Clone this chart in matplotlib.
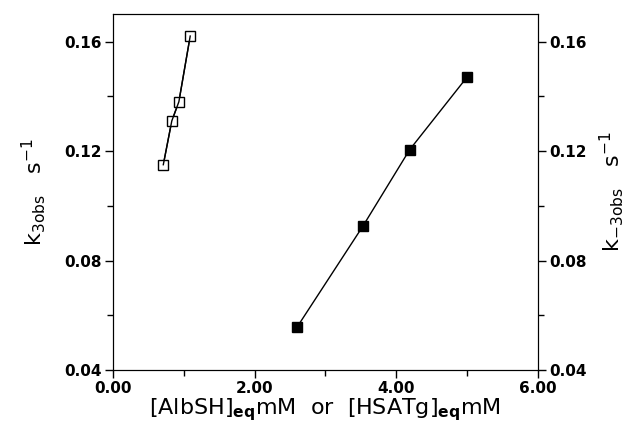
import matplotlib
matplotlib.use('Agg')
import matplotlib.pyplot as plt
from matplotlib.ticker import MultipleLocator, FormatStrFormatter

# open squares: k3obs vs [AlbSH]eq
alb_conc = [0.71, 0.83, 0.93, 1.09]
k3_obs = [0.115, 0.131, 0.138, 0.162]

# filled squares: k-3obs vs [HSATg]eq
hsatg_conc = [2.60, 3.53, 4.19, 5.00]
km3_obs = [0.0557, 0.0926, 0.1205, 0.147]

plt.rcParams['font.family'] = ['DejaVu Sans']

fig = plt.figure(figsize=(6.35, 4.29), dpi=100)
ax = fig.add_axes([0.178, 0.1375, 0.669, 0.8295])

ax.plot(alb_conc, k3_obs, color='black', lw=1.0, marker='s', ms=7,
        mfc='white', mec='black', mew=1.0)
ax.plot(alb_conc, k3_obs, color='black', lw=1.0)  # line shows through open boxes
ax.plot(hsatg_conc, km3_obs, color='black', lw=1.0, marker='s', ms=7,
        mfc='black', mec='black')

ax.set_xlim(0, 6)
ax.set_ylim(0.04, 0.17)
ax.xaxis.set_major_locator(MultipleLocator(2))
ax.xaxis.set_minor_locator(MultipleLocator(1))
ax.yaxis.set_major_locator(MultipleLocator(0.04))
ax.yaxis.set_minor_locator(MultipleLocator(0.02))
ax.xaxis.set_major_formatter(FormatStrFormatter('%.2f'))
ax.yaxis.set_major_formatter(FormatStrFormatter('%.2f'))
ax.tick_params(which='both', direction='out', width=1.0, labelsize=11)
ax.tick_params(which='major', length=6, pad=2)
ax.tick_params(which='minor', length=4)
for lab in ax.get_xticklabels() + ax.get_yticklabels():
    lab.set_fontweight('bold')

ax2 = ax.twinx()
ax2.set_ylim(0.04, 0.17)
ax2.yaxis.set_major_locator(MultipleLocator(0.04))
ax2.yaxis.set_minor_locator(MultipleLocator(0.02))
ax2.yaxis.set_major_formatter(FormatStrFormatter('%.2f'))
ax2.tick_params(which='both', direction='out', width=1.0, labelsize=11)
ax2.tick_params(which='major', length=6, pad=2)
ax2.tick_params(which='minor', length=4)
for lab in ax2.get_yticklabels():
    lab.set_fontweight('bold')

ax.set_xlabel(r'[AlbSH]$_{\mathbf{eq}}$mM  or  [HSATg]$_{\mathbf{eq}}$mM', fontsize=16, labelpad=0)
ax.set_ylabel(r'k$_{\mathrm{3obs}}$   s$^{-1}$', fontsize=16, labelpad=12)
ax2.set_ylabel(r'k$_{\mathrm{-3obs}}$   s$^{-1}$', fontsize=16, labelpad=8, rotation=90)

fig.savefig('out.png', dpi=100)
